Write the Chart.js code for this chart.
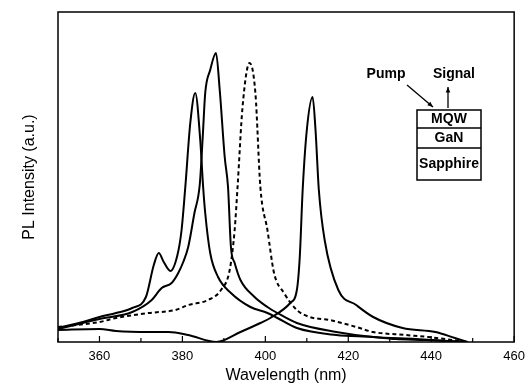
<!DOCTYPE html>
<html>
<head>
<meta charset="utf-8">
<title>PL spectra</title>
<script src="https://cdn.jsdelivr.net/npm/chart.js@4.4.0/dist/chart.umd.min.js"></script>
<style>
  html, body { margin: 0; padding: 0; background: #fff; }
  #wrap { width: 532px; height: 385px; position: relative; }
</style>
</head>
<body>
<div id="wrap"><canvas id="chart-pl"></canvas></div>
<script>
// Spectrum peaking at 383 nm (with shoulder at 374 nm)
const wlA  = [350, 356, 360, 364, 367.9, 371.2, 373.1, 374.3, 375.5, 377.1, 378.8, 379.8, 380.7, 381.9, 383.1, 384.3, 385.0, 385.5, 386.7, 388.6, 391.7, 396.4, 400.5, 402.9, 407.6, 417.1, 426.0, 431.4, 438.6, 448.1];
const intA = [14, 20, 25, 29, 34, 45, 77, 89, 80, 71, 87, 112, 155, 219, 249, 202, 155, 129, 89, 65, 49, 35, 29, 24, 14, 7, 5, 3, 2, 0];

// Spectrum peaking at 388 nm
const wlB  = [350, 356, 360, 367.9, 372.6, 375.0, 377.4, 379.0, 380.2, 381.4, 382.9, 384.2, 384.9, 385.5, 386.7, 388.1, 389.0, 390.2, 391.0, 391.7, 392.6, 394.0, 397.4, 400.5, 402.9, 407.6, 417.1, 426.0, 436.2, 448.1];
const intB = [13, 19, 23, 30, 42, 54, 59, 69, 80, 95, 129, 158, 205, 249, 272, 289, 252, 185, 155, 95, 79, 62, 45, 35, 29, 19, 10, 5, 3, 0];

// Spectrum peaking at 396 nm (dashed)
const wlC  = [350, 360, 364, 371.9, 378.3, 381.4, 386.2, 389.3, 391.4, 392.6, 393.3, 394.5, 396.2, 397.6, 398.8, 400.5, 402.1, 404.5, 407.6, 410.7, 415.5, 421.9, 426.0, 433.8, 439.3, 448.8];
const intC = [15, 20, 24, 29, 32, 37, 42, 52, 72, 112, 155, 235, 279, 249, 155, 112, 69, 49, 32, 25, 22, 15, 10, 7, 5, 0];

// Spectrum peaking at 411 nm
const wlD  = [350, 360, 364, 371.9, 376.7, 381.4, 388.2, 394.0, 398.8, 401.2, 406.0, 407.6, 408.3, 409.0, 410.0, 411.4, 412.1, 412.9, 414.3, 417.6, 421.9, 426.0, 433.1, 441.0, 445.7, 448.8];
const intD = [12, 13, 11, 10, 10, 7, 0, 10, 19, 24, 39, 52, 85, 152, 212, 245, 212, 152, 102, 52, 37, 25, 14, 10, 4, 0];

const xTickLabels = [360, 380, 400, 420, 440, 460];
const xTickMarks = [350, 360, 370, 380, 390, 400, 410, 420, 430, 440, 450, 460];

const FONT = '"Liberation Sans", Arial, Helvetica, sans-serif';

function toPoints(xs, ys) {
  return xs.map((x, i) => ({ x: x, y: ys[i] }));
}

function spectrum(xs, ys, dashed) {
  return {
    data: toPoints(xs, ys),
    borderColor: '#000',
    borderWidth: 2,
    borderDash: dashed ? [4, 3] : [],
    pointRadius: 0,
    fill: false,
    cubicInterpolationMode: 'monotone'
  };
}

// Plot frame and inward tick marks on the bottom axis
const framePlugin = {
  id: 'frame',
  afterDraw(chart) {
    const { ctx, chartArea: a } = chart;
    const x = chart.scales.x;
    ctx.save();
    ctx.strokeStyle = '#000';
    ctx.lineWidth = 1.5;
    ctx.strokeRect(a.left, a.top, a.right - a.left, a.bottom - a.top);
    ctx.lineWidth = 1.2;
    xTickMarks.forEach(v => {
      const px = x.getPixelForValue(v);
      const len = v % 20 === 0 ? 6 : 4;
      ctx.beginPath();
      ctx.moveTo(px, a.bottom);
      ctx.lineTo(px, a.bottom - len);
      ctx.stroke();
    });
    ctx.restore();
  }
};

function arrow(ctx, x1, y1, x2, y2) {
  const ang = Math.atan2(y2 - y1, x2 - x1);
  const h = 6;
  ctx.beginPath();
  ctx.moveTo(x1, y1);
  ctx.lineTo(x2, y2);
  ctx.stroke();
  ctx.beginPath();
  ctx.moveTo(x2, y2);
  ctx.lineTo(x2 - h * Math.cos(ang - 0.4), y2 - h * Math.sin(ang - 0.4));
  ctx.lineTo(x2 - h * Math.cos(ang + 0.4), y2 - h * Math.sin(ang + 0.4));
  ctx.closePath();
  ctx.fill();
}

// Sample structure sketch in the upper right
const insetPlugin = {
  id: 'inset',
  afterDraw(chart) {
    const ctx = chart.ctx;
    ctx.save();
    ctx.fillStyle = '#000';
    ctx.strokeStyle = '#000';
    ctx.font = 'bold 14px ' + FONT;
    ctx.textAlign = 'center';
    ctx.textBaseline = 'middle';
    ctx.fillText('Pump', 386, 74);
    ctx.fillText('Signal', 454, 74);

    ctx.lineWidth = 1.5;
    ctx.strokeRect(417, 110, 64, 70);
    ctx.beginPath();
    ctx.moveTo(417, 128); ctx.lineTo(481, 128);
    ctx.moveTo(417, 148); ctx.lineTo(481, 148);
    ctx.stroke();
    ctx.fillText('MQW', 449, 119.5);
    ctx.fillText('GaN', 449, 138.5);
    ctx.fillText('Sapphire', 449, 164);

    ctx.lineWidth = 1.3;
    arrow(ctx, 407, 85, 433, 107);
    arrow(ctx, 448, 108, 448, 87);
    ctx.restore();
  }
};

new Chart(document.getElementById('chart-pl'), {
  type: 'line',
  data: {
    datasets: [
      spectrum(wlA, intA, false),
      spectrum(wlB, intB, false),
      spectrum(wlC, intC, true),
      spectrum(wlD, intD, false)
    ]
  },
  options: {
    responsive: true,
    maintainAspectRatio: false,
    animation: false,
    layout: { padding: { top: 12, right: 12, left: 0, bottom: 0 } },
    plugins: {
      legend: { display: false },
      tooltip: { enabled: false }
    },
    scales: {
      x: {
        type: 'linear',
        min: 350,
        max: 460,
        grid: { display: false, drawTicks: false },
        border: { display: false },
        afterBuildTicks: scale => {
          scale.ticks = xTickLabels.map(v => ({ value: v }));
        },
        afterFit: scale => { scale.height = 43; },
        ticks: {
          color: '#000',
          padding: 7,
          maxRotation: 0,
          font: { family: FONT, size: 13 }
        },
        title: {
          display: true,
          text: 'Wavelength (nm)',
          color: '#000',
          padding: { top: 0, bottom: 0 },
          font: { family: FONT, size: 16 }
        }
      },
      y: {
        min: 0,
        max: 330,
        grid: { display: false, drawTicks: false },
        border: { display: false },
        ticks: { display: false },
        afterFit: scale => { scale.width = 58; },
        title: {
          display: true,
          text: 'PL Intensity (a.u.)',
          color: '#000',
          padding: { top: 20, bottom: 0 },
          font: { family: FONT, size: 16 }
        }
      }
    }
  },
  plugins: [framePlugin, insetPlugin]
});
</script>
</body>
</html>
